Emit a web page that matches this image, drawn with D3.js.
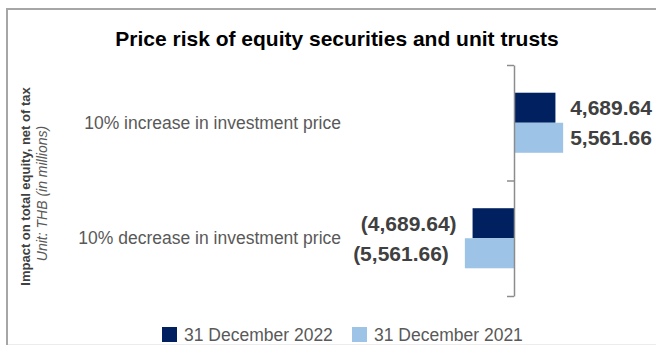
<!DOCTYPE html>
<html>
<head>
<meta charset="utf-8">
<script src="https://cdn.jsdelivr.net/npm/d3@7"></script>
<style>
  html, body { margin: 0; padding: 0; background: #fff; }
  svg { display: block; font-family: "Liberation Sans", Arial, sans-serif; }
</style>
</head>
<body>
<svg id="chart" width="656" height="345"></svg>
<script>
// Sensitivity of total equity to a 10% move in investment prices (THB millions)
const categories = ["10% increase in investment price", "10% decrease in investment price"];
const seriesNames = ["31 December 2022", "31 December 2021"];
const values2022 = [4689.64, -4689.64];
const values2021 = [5561.66, -5561.66];
const seriesColors = ["#002060", "#9dc3e6"];

const svg = d3.select("#chart");
const W = 656, H = 345;

// frame
svg.append("rect").attr("x", 0).attr("y", 0).attr("width", W).attr("height", H).attr("fill", "#fff");
svg.append("path")
  .attr("d", `M7,${H} L7,9 L${W},9`)
  .attr("fill", "none").attr("stroke", "#a6a6a6").attr("stroke-width", 2);
svg.append("line")
  .attr("x1", 8).attr("x2", W).attr("y1", 344.5).attr("y2", 344.5)
  .attr("stroke", "#ececec").attr("stroke-width", 1);

// title
svg.append("text")
  .attr("x", 337).attr("y", 46)
  .attr("text-anchor", "middle")
  .attr("font-size", 21).attr("font-weight", "bold").attr("fill", "#000")
  .text("Price risk of equity securities and unit trusts");

// scales
const x = d3.scaleLinear().domain([-6000, 6000]).range([461, 567]);
const y = d3.scaleBand().domain(categories).range([65, 296]).paddingInner(0.48).paddingOuter(0.24);
const ySub = d3.scaleBand().domain(seriesNames).range([0, y.bandwidth()]);

const rows = categories.map((c, i) => ({
  category: c,
  items: [
    { series: seriesNames[0], value: values2022[i], color: seriesColors[0] },
    { series: seriesNames[1], value: values2021[i], color: seriesColors[1] }
  ]
}));

const fmt = d3.format(",.2f");
const label = v => v < 0 ? `(${fmt(-v)})` : fmt(v);

// bars
const groups = svg.append("g").selectAll("g").data(rows).join("g")
  .attr("transform", d => `translate(0,${y(d.category)})`);

groups.selectAll("rect").data(d => d.items).join("rect")
  .attr("x", d => x(Math.min(0, d.value)))
  .attr("y", d => ySub(d.series))
  .attr("width", d => Math.abs(x(d.value) - x(0)))
  .attr("height", ySub.bandwidth())
  .attr("fill", d => d.color);

// value labels
const maxPos = d3.max([...values2022, ...values2021]);
groups.selectAll("text.val").data(d => d.items).join("text")
  .attr("class", "val")
  .attr("x", d => d.value >= 0 ? x(maxPos) + 7 : x(d.value) - 16)
  .attr("y", d => ySub(d.series) + ySub.bandwidth() / 2)
  .attr("dy", "0.35em")
  .attr("text-anchor", d => d.value >= 0 ? "start" : "end")
  .attr("font-size", 21).attr("font-weight", "bold").attr("fill", "#404040")
  .text(d => label(d.value));

// category axis at zero, ticks at band boundaries
const yEdges = d3.scaleLinear().domain([0, categories.length]).range([65, 296]);
const axis = svg.append("g")
  .attr("transform", `translate(${x(0)},0)`)
  .call(d3.axisLeft(yEdges).tickValues(d3.range(categories.length + 1)).tickSize(7).tickSizeOuter(0).tickFormat(""));
axis.selectAll("line, path").attr("stroke", "#8c8c8c").attr("stroke-width", 1.5);

// category labels
svg.append("g").selectAll("text").data(categories).join("text")
  .attr("x", 341)
  .attr("y", d => y(d) + y.bandwidth() / 2)
  .attr("dy", "0.35em")
  .attr("text-anchor", "end")
  .attr("font-size", 17.5).attr("fill", "#595959")
  .text(d => d);

// vertical axis titles
svg.append("text")
  .attr("transform", "translate(29.5,186.5) rotate(-90)")
  .attr("text-anchor", "middle")
  .attr("font-size", 13).attr("font-weight", "bold").attr("fill", "#404040")
  .text("Impact on total equity, net of tax");
svg.append("text")
  .attr("transform", "translate(47,193.5) rotate(-90)")
  .attr("text-anchor", "middle")
  .attr("font-size", 14).attr("font-style", "italic").attr("fill", "#595959")
  .text("Unit: THB (in millions)");

// legend
const legendX = [162, 352];
const legend = svg.append("g").selectAll("g").data(seriesNames).join("g")
  .attr("transform", (d, i) => `translate(${legendX[i]},327)`);
legend.append("rect").attr("width", 15).attr("height", 15).attr("fill", (d, i) => seriesColors[i]);
legend.append("text")
  .attr("x", 22).attr("y", 7.5).attr("dy", "0.35em")
  .attr("font-size", 17.5).attr("fill", "#595959")
  .text(d => d);
</script>
</body>
</html>
